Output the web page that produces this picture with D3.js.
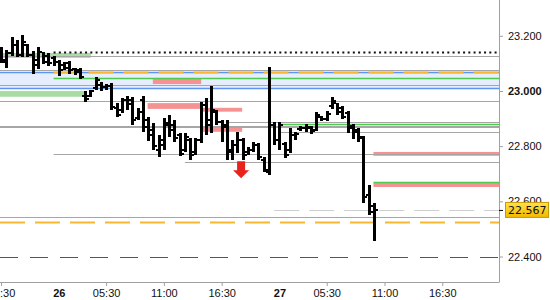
<!DOCTYPE html>
<html>
<head>
<meta charset="utf-8">
<script src="https://cdnjs.cloudflare.com/ajax/libs/d3/7.8.5/d3.min.js"></script>
<style>
body { margin: 0; background: #fff; }
svg { display: block; font-family: "DejaVu Sans", sans-serif; }
.axis text { font-size: 11px; fill: #111; }
.axis path, .axis line { stroke: #a0a0a0; }
</style>
</head>
<body>
<div class="svg-container"></div>
<script>
// 30 minute bars, oldest first
var barOpen = [23.149, 23.105, 23.138, 23.167, 23.131, 23.167, 23.131, 23.095, 23.142, 23.127, 23.120, 23.105,
	23.095, 23.102, 23.080, 23.076, 22.982, 22.982, 23.011, 23.022, 23.015, 23.018, 22.938, 22.931,
	22.967, 22.967, 22.902, 22.967, 22.895, 22.858, 22.785, 22.804, 22.876, 22.876, 22.840, 22.785,
	22.822, 22.778, 22.822, 22.949, 22.895, 22.924, 22.887, 22.876, 22.785, 22.804, 22.822, 22.778,
	22.785, 22.804, 22.749, 22.705, 22.876, 22.822, 22.807, 22.785, 22.840, 22.862, 22.865, 22.865,
	22.858, 22.905, 22.898, 22.945, 22.956, 22.938, 22.920, 22.873, 22.858, 22.829, 22.622, 22.582];
var barHigh = [23.160, 23.149, 23.196, 23.185, 23.204, 23.171, 23.145, 23.160, 23.142, 23.138, 23.127, 23.113,
	23.105, 23.109, 23.084, 23.084, 23.000, 23.004, 23.051, 23.033, 23.025, 23.029, 22.956, 22.975,
	22.982, 22.978, 22.938, 22.982, 22.905, 22.884, 22.840, 22.902, 22.913, 22.895, 22.847, 22.847,
	22.829, 22.829, 22.960, 22.975, 23.018, 22.931, 22.895, 22.895, 22.822, 22.851, 22.829, 22.796,
	22.815, 22.811, 22.760, 23.087, 22.887, 22.887, 22.815, 22.865, 22.851, 22.873, 22.880, 22.873,
	22.924, 22.909, 22.927, 22.978, 22.956, 22.945, 22.927, 22.880, 22.865, 22.836, 22.658, 22.593];
var barLow = [23.102, 23.084, 23.127, 23.124, 23.124, 23.124, 23.062, 23.080, 23.098, 23.091, 23.091, 23.055,
	23.076, 23.062, 23.058, 23.044, 22.960, 22.978, 23.004, 23.000, 23.004, 22.931, 22.905, 22.920,
	22.931, 22.876, 22.895, 22.851, 22.818, 22.785, 22.760, 22.785, 22.833, 22.815, 22.764, 22.778,
	22.749, 22.767, 22.811, 22.840, 22.847, 22.876, 22.815, 22.749, 22.749, 22.775, 22.749, 22.767,
	22.778, 22.749, 22.705, 22.695, 22.804, 22.785, 22.756, 22.775, 22.822, 22.855, 22.851, 22.844,
	22.855, 22.891, 22.891, 22.935, 22.913, 22.898, 22.847, 22.825, 22.815, 22.593, 22.549, 22.455];
var barClose = [23.113, 23.138, 23.167, 23.131, 23.178, 23.131, 23.113, 23.142, 23.105, 23.102, 23.105, 23.076,
	23.084, 23.076, 23.069, 23.051, 22.971, 23.000, 23.040, 23.015, 23.018, 22.942, 22.913, 22.967,
	22.953, 22.895, 22.924, 22.869, 22.840, 22.800, 22.822, 22.884, 22.858, 22.829, 22.771, 22.833,
	22.767, 22.822, 22.949, 22.876, 22.931, 22.887, 22.869, 22.778, 22.804, 22.822, 22.767, 22.785,
	22.804, 22.760, 22.713, 22.876, 22.822, 22.876, 22.767, 22.840, 22.844, 22.865, 22.869, 22.855,
	22.913, 22.898, 22.916, 22.964, 22.924, 22.905, 22.865, 22.851, 22.833, 22.615, 22.560, 22.567];

var xTickIndex = [0, 11, 20, 31, 42, 53, 62, 73, 84];
var xTickLabels = ["16:30", "26", "05:30", "11:00", "16:30", "27", "05:30", "11:00", "16:30"];
var dayLabels = ["26", "27"];
var yTickValues = [23.2, 23.0, 22.8, 22.6, 22.4];
var lastPrice = 22.567;

// horizontal levels: price, first bar index, kind
var levelPrice = [23.127, 23.075, 23.021, 22.964, 22.889, 22.874, 22.871, 22.853, 22.773, 22.741, 22.543,
	23.069, 23.010, 23.068, 22.524, 23.046, 22.882, 22.669, 23.140, 22.567, 22.400];
var levelStart = [-0.2, -0.2, -0.2, -0.2, 43, -0.2, -0.2, 53, 10, 35, -0.2,
	-0.2, -0.2, 10, -0.2, 10, 53, 70.9, 10, 52, -0.2];
var levelKind = ["gray", "gray", "gray", "gray", "gray", "gray", "gray", "gray", "gray", "gray", "gray",
	"blue", "blue", "orange", "orange", "green", "green", "green", "dots", "last", "dash"];

// zones: bar index range and price range
var zoneFrom = [-0.2, -0.2, 28.9, 27.9, 38.1, 38.1, 70.9, 70.9];
var zoneTo = [17.1, 16, 38.1, 38.1, 45.9, 45.9, 94.8, 94.8];
var zoneTop = [23.138, 23.000, 23.047, 22.956, 22.939, 22.870, 22.779, 22.667];
var zoneBottom = [23.120, 22.979, 23.025, 22.935, 22.925, 22.852, 22.765, 22.652];
var zoneKind = ["buy", "buy", "sell", "sell", "sell", "sell", "sell", "sell"];

var signalIndex = 45.7;
var signalPrice = 22.745;

var width = 550, height = 300, plotRight = 499, plotBottom = 282;

var xScale = d3.scaleLinear().domain([-0.2, 94.8]).range([0, plotRight]);
var yScale = d3.scaleLinear().domain([22.4, 23.2]).range([256.5, 35.8]);

var svg = d3.select('.svg-container')
	.append('svg')
	.attr('width', width)
	.attr('height', height);

// blue band
svg.append('rect')
	.attr('x', 0)
	.attr('width', plotRight)
	.attr('y', yScale(levelPrice[11]))
	.attr('height', yScale(levelPrice[12]) - yScale(levelPrice[11]))
	.attr('fill', '#e6edfd');

var zoneColor = { buy: '#a9dca3', sell: '#f59393' };
svg.selectAll('.zone')
	.data(zoneFrom)
	.enter()
	.append('rect')
	.attr('class', 'zone')
	.attr('x', function(d) { return xScale(d); })
	.attr('width', function(d, i) { return xScale(zoneTo[i]) - xScale(d); })
	.attr('y', function(d, i) { return yScale(zoneTop[i]); })
	.attr('height', function(d, i) { return yScale(zoneBottom[i]) - yScale(zoneTop[i]); })
	.attr('fill', function(d, i) { return zoneColor[zoneKind[i]]; });

var levelStyle = {
	gray: { stroke: '#a6a6a6', width: 1.2, dash: null },
	blue: { stroke: '#5f95f2', width: 1.3, dash: null },
	orange: { stroke: '#f7b733', width: 2, dash: '25,10' },
	green: { stroke: '#4ccb4c', width: 1.4, dash: null },
	dots: { stroke: '#111', width: 2, dash: '2,3.25' },
	last: { stroke: '#cfcfcf', width: 1.2, dash: '25,10' },
	dash: { stroke: '#555', width: 1.2, dash: '18,12' }
};

svg.selectAll('.level')
	.data(levelPrice)
	.enter()
	.append('line')
	.attr('class', 'level')
	.attr('x1', function(d, i) { return xScale(levelStart[i]); })
	.attr('x2', plotRight)
	.attr('y1', function(d) { return Math.round(yScale(d)) + 0.5; })
	.attr('y2', function(d) { return Math.round(yScale(d)) + 0.5; })
	.attr('stroke', function(d, i) { return levelStyle[levelKind[i]].stroke; })
	.attr('stroke-width', function(d, i) { return levelStyle[levelKind[i]].width; })
	.attr('stroke-dasharray', function(d, i) { return levelStyle[levelKind[i]].dash; });

// ohlc bars
var bars = svg.selectAll('.bar')
	.data(barOpen)
	.enter()
	.append('g')
	.attr('class', 'bar')
	.attr('shape-rendering', 'crispEdges');

bars.append('rect')
	.attr('x', function(d, i) { return Math.round(xScale(i)) - 1; })
	.attr('width', 3)
	.attr('y', function(d, i) { return yScale(barHigh[i]); })
	.attr('height', function(d, i) { return yScale(barLow[i]) - yScale(barHigh[i]); })
	.attr('fill', '#000');

bars.append('rect')
	.attr('x', function(d, i) { return Math.round(xScale(i)) - 3; })
	.attr('width', 2)
	.attr('y', function(d) { return yScale(d) - 1; })
	.attr('height', 2)
	.attr('fill', '#000');

bars.append('rect')
	.attr('x', function(d, i) { return Math.round(xScale(i)) + 2; })
	.attr('width', 2)
	.attr('y', function(d, i) { return yScale(barClose[i]) - 1; })
	.attr('height', 2)
	.attr('fill', '#000');

// sell signal arrow
var ax = xScale(signalIndex), ay = yScale(signalPrice);
svg.append('path')
	.attr('d', 'M' + (ax - 4) + ',' + ay + 'h8v9h4l-8,8l-8,-8h4z')
	.attr('fill', '#e8231c');

// axes
var xAxis = d3.axisBottom(xScale)
	.tickValues(xTickIndex)
	.tickSize(4)
	.tickFormat(function(d, i) { return xTickLabels[i]; });

var gx = svg.append('g')
	.attr('class', 'axis')
	.attr('transform', 'translate(0,' + plotBottom + ')')
	.call(xAxis);
gx.select('.domain').attr('d', 'M0,0.5H' + plotRight);
gx.selectAll('.tick').each(function(d, i) {
	if (dayLabels.indexOf(xTickLabels[i]) >= 0) {
		d3.select(this).select('text').attr('font-weight', 'bold');
		d3.select(this).select('line').remove();
	}
});

var yAxis = d3.axisRight(yScale)
	.tickValues(yTickValues)
	.tickSize(4)
	.tickPadding(5)
	.tickFormat(d3.format('.3f'));

var gy = svg.append('g')
	.attr('class', 'axis')
	.attr('transform', 'translate(' + plotRight + ',0)')
	.call(yAxis);
gy.select('.domain').attr('d', 'M0.5,0V' + (plotBottom + 0.5));
gy.selectAll('.tick text')
	.attr('font-weight', function(d) { return d === 23.0 ? 'bold' : null; });

// last price tag
var ly = yScale(lastPrice);
var grad = svg.append('defs').append('linearGradient')
	.attr('id', 'tag')
	.attr('x1', 0).attr('x2', 0).attr('y1', 0).attr('y2', 1);
grad.append('stop').attr('offset', 0).attr('stop-color', '#ffe24a');
grad.append('stop').attr('offset', 1).attr('stop-color', '#f2b800');

svg.append('line')
	.attr('x1', plotRight)
	.attr('x2', plotRight + 4)
	.attr('y1', ly)
	.attr('y2', ly)
	.attr('stroke', '#000');

svg.append('rect')
	.attr('x', 505.5)
	.attr('y', ly - 8)
	.attr('width', 43)
	.attr('height', 15)
	.attr('fill', 'url(#tag)')
	.attr('stroke', '#c99a00');

svg.append('text')
	.attr('x', 508)
	.attr('y', ly)
	.attr('dy', '0.35em')
	.attr('font-size', 11)
	.attr('fill', '#111')
	.text(d3.format('.3f')(lastPrice));
</script>
</body>
</html>
